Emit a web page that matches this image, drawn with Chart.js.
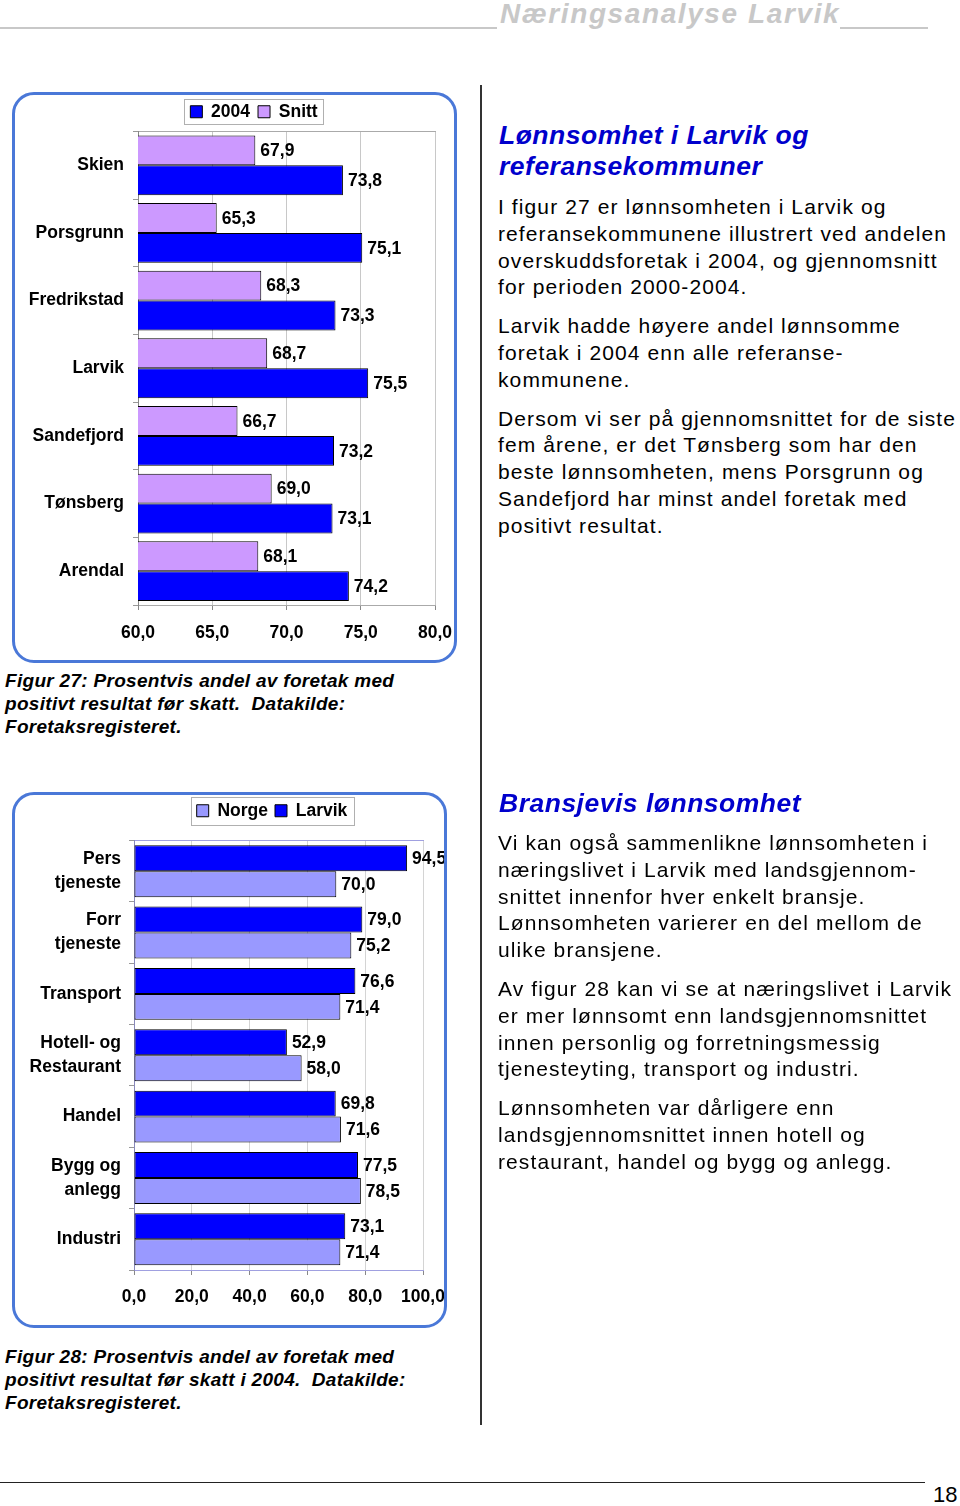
<!DOCTYPE html>
<html>
<head>
<meta charset="utf-8">
<script src="https://cdn.jsdelivr.net/npm/chart.js@4"></script>
<style>
  body { margin: 0; background: #fff; font-family: "Liberation Sans", Arial, sans-serif; }
  .page { position: relative; width: 960px; height: 1506px; overflow: hidden; }
  .abs { position: absolute; }
  .hline { position: absolute; height: 2px; background: #c8c8c8; }
  .box { position: absolute; border: 3px solid #4a78d8; border-radius: 22px; box-sizing: border-box; pointer-events: none; }
  .head { position: absolute; left: 499px; font-weight: bold; font-style: italic; color: #0000cc; font-size: 26.5px; line-height: 31px; letter-spacing: 0.5px; white-space: nowrap; }
  .txt { position: absolute; left: 498px; font-size: 21px; line-height: 26.8px; letter-spacing: 1.1px; white-space: nowrap; color: #000; }
  .txt p { margin: 0 0 12px 0; }
  .cap { position: absolute; left: 5px; font-size: 19px; line-height: 23px; letter-spacing: 0.3px; font-weight: bold; font-style: italic; white-space: nowrap; }
</style>
</head>
<body>
<div class="page">
  <div class="hline" style="left:0;top:27px;width:497px"></div>
  <div class="abs" style="left:500px;top:-3px;font-size:28px;line-height:34px;font-weight:bold;font-style:italic;color:#c8c8c8;letter-spacing:1.6px;white-space:nowrap">Næringsanalyse Larvik</div>
  <div class="hline" style="left:840px;top:27px;width:88px"></div>

  <div class="abs" style="left:480px;top:85px;width:2px;height:1340px;background:#333"></div>

  <canvas id="chart1" class="abs" width="478" height="564" style="left:15px;top:95px"></canvas>
  <div class="box" style="left:12px;top:92px;width:445px;height:571px"></div>

  <canvas id="chart2" class="abs" width="514" height="529" style="left:15px;top:795px"></canvas>
  <div class="box" style="left:12px;top:792px;width:435px;height:536px"></div>

  <div class="head" style="top:120px">Lønnsomhet i Larvik og<br>referansekommuner</div>
  <div class="txt" style="top:194px">
    <p>I figur 27 er lønnsomheten i Larvik og<br>referansekommunene illustrert ved andelen<br>overskuddsforetak i 2004, og gjennomsnitt<br>for perioden 2000-2004.</p>
    <p>Larvik hadde høyere andel lønnsomme<br>foretak i 2004 enn alle referanse-<br>kommunene.</p>
    <p>Dersom vi ser på gjennomsnittet for de siste<br>fem årene, er det Tønsberg som har den<br>beste lønnsomheten, mens Porsgrunn og<br>Sandefjord har minst andel foretak med<br>positivt resultat.</p>
  </div>

  <div class="cap" style="top:669px">Figur 27: Prosentvis andel av foretak med<br>positivt resultat før skatt.&nbsp; Datakilde:<br>Foretaksregisteret.</div>

  <div class="head" style="top:788px">Bransjevis lønnsomhet</div>
  <div class="txt" style="top:830px">
    <p>Vi kan også sammenlikne lønnsomheten i<br>næringslivet i Larvik med landsgjennom-<br>snittet innenfor hver enkelt bransje.<br>Lønnsomheten varierer en del mellom de<br>ulike bransjene.</p>
    <p>Av figur 28 kan vi se at næringslivet i Larvik<br>er mer lønnsomt enn landsgjennomsnittet<br>innen personlig og forretningsmessig<br>tjenesteyting, transport og industri.</p>
    <p>Lønnsomheten var dårligere enn<br>landsgjennomsnittet innen hotell og<br>restaurant, handel og bygg og anlegg.</p>
  </div>

  <div class="cap" style="top:1345px">Figur 28: Prosentvis andel av foretak med<br>positivt resultat før skatt i 2004.&nbsp; Datakilde:<br>Foretaksregisteret.</div>

  <div class="abs" style="left:0;top:1482px;width:925px;height:1px;background:#222"></div>
  <div class="abs" style="left:933px;top:1483px;font-size:22px;line-height:24px">18</div>
</div>

<script>
// Figur 27: kommuner
const kommuner = ['Skien', 'Porsgrunn', 'Fredrikstad', 'Larvik', 'Sandefjord', 'Tønsberg', 'Arendal'];
const snitt = [67.9, 65.3, 68.3, 68.7, 66.7, 69.0, 68.1];
const aar2004 = [73.8, 75.1, 73.3, 75.5, 73.2, 73.1, 74.2];
const ticks1 = [60, 65, 70, 75, 80];

// Figur 28: bransjer
const bransjer = [['Pers', 'tjeneste'], ['Forr', 'tjeneste'], 'Transport', ['Hotell- og', 'Restaurant'], 'Handel', ['Bygg og', 'anlegg'], 'Industri'];
const larvik = [94.5, 79.0, 76.6, 52.9, 69.8, 77.5, 73.1];
const norge = [70.0, 75.2, 71.4, 58.0, 71.6, 78.5, 71.4];
const ticks2 = [0, 20, 40, 60, 80, 100];

const FONT = '"Liberation Sans", Arial, sans-serif';
const FS = 17.5;
Chart.defaults.font.family = FONT;
Chart.defaults.color = '#000';

const fmt = v => Number(v).toFixed(1).replace('.', ',');

const valueLabels = {
  id: 'valueLabels',
  afterDatasetsDraw(chart) {
    const ctx = chart.ctx;
    ctx.save();
    ctx.font = 'bold ' + FS + 'px ' + FONT;
    ctx.fillStyle = '#000';
    ctx.textBaseline = 'middle';
    chart.data.datasets.forEach((ds, i) => {
      chart.getDatasetMeta(i).data.forEach((bar, j) => {
        ctx.fillText(fmt(ds.data[j]), bar.x + 5, bar.y + 1);
      });
    });
    ctx.restore();
  }
};

// frame round the legend, like the excel legend box
const legendFrame = {
  id: 'legendFrame',
  afterDraw(chart) {
    const boxes = chart.legend.legendHitBoxes;
    if (!boxes || !boxes.length) return;
    const l = Math.min(...boxes.map(b => b.left)) - 6;
    const r = Math.max(...boxes.map(b => b.left + b.width)) + 6;
    const cy = boxes[0].top + boxes[0].height / 2;
    const h = chart.options.plugins.legendFrame.h;
    const ctx = chart.ctx;
    ctx.save();
    ctx.strokeStyle = '#b0b0b0';
    ctx.lineWidth = 1;
    ctx.strokeRect(Math.round(l) + 0.5, Math.round(cy - h / 2) + 0.5, Math.round(r - l), h);
    ctx.restore();
  }
};

function makeChart(id, labels, datasets, tickVals, opt) {
  return new Chart(document.getElementById(id), {
    type: 'bar',
    data: { labels: labels, datasets: datasets },
    plugins: [valueLabels, legendFrame],
    options: {
      responsive: false,
      animation: false,
      indexAxis: 'y',
      layout: { padding: 0 },
      datasets: { bar: { categoryPercentage: opt.catPct, barPercentage: 1, borderWidth: 1, borderColor: '#000', borderSkipped: false } },
      plugins: {
        tooltip: { enabled: false },
        legendFrame: { h: opt.frameH },
        legend: {
          reverse: true,
          labels: { boxWidth: 12, boxHeight: 12, padding: opt.legendPad, font: { size: FS, weight: 'bold' } }
        }
      },
      scales: {
        x: {
          min: tickVals[0], max: tickVals[tickVals.length - 1],
          afterBuildTicks: s => { s.ticks = tickVals.map(v => ({ value: v })); },
          afterFit: s => { s.height = opt.xHeight; },
          grid: { color: opt.gridColor, tickLength: 5, tickColor: '#888' },
          border: { color: opt.frameColor },
          ticks: { padding: opt.xPad, maxRotation: 0, font: { size: FS, weight: 'bold' }, callback: v => fmt(v) }
        },
        x2: {
          position: 'top', axis: 'x',
          min: tickVals[0], max: tickVals[tickVals.length - 1],
          afterFit: s => { s.height = opt.topGap; },
          grid: { display: false },
          border: { color: opt.frameColor },
          ticks: { display: false }
        },
        y: {
          afterFit: s => { s.width = opt.yWidth; },
          grid: { drawOnChartArea: false, tickLength: 5, offset: true, color: '#999' },
          border: { color: opt.axisColor },
          ticks: { padding: opt.yPad, font: { size: FS, weight: 'bold', lineHeight: 1.38 } }
        },
        // empty space on the right so the legend sits where it does in the figure
        y2: {
          type: 'category', position: 'right', axis: 'y',
          afterFit: s => { s.width = opt.rightGap; },
          grid: { display: false },
          border: { display: false },
          ticks: { display: false }
        }
      }
    }
  });
}

makeChart('chart1', kommuner, [
  { label: 'Snitt', data: snitt, backgroundColor: '#cc99ff' },
  { label: '2004', data: aar2004, backgroundColor: '#0000ff' }
], ticks1, {
  yWidth: 123, rightGap: 58, yPad: 9, xHeight: 54, xPad: 13,
  legendPad: 8, topGap: 1, catPct: 0.884, frameH: 25,
  gridColor: '#c8c8c8', frameColor: '#aaaaaa', axisColor: '#888888'
});

makeChart('chart2', bransjer, [
  { label: 'Larvik', data: larvik, backgroundColor: '#0000ff' },
  { label: 'Norge', data: norge, backgroundColor: '#9999ff' }
], ticks2, {
  yWidth: 119, rightGap: 106, yPad: 8, xHeight: 54, xPad: 12,
  legendPad: 7, topGap: 11, catPct: 0.846, frameH: 28,
  gridColor: '#d4d4d4', frameColor: '#a0a0e0', axisColor: '#8888bb'
});
</script>
</body>
</html>
